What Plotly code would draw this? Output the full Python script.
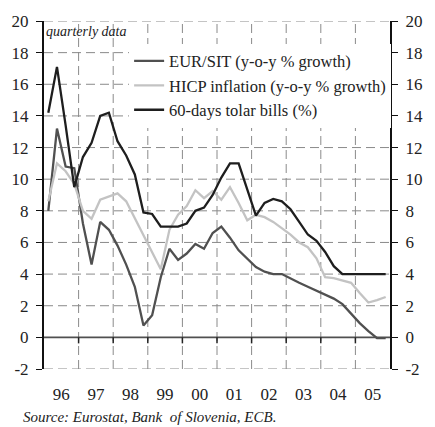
import plotly.graph_objects as go

years = list(range(1996, 2006))
year_labels = ["96", "97", "98", "99", "00", "01", "02", "03", "04", "05"]
quarters = [1, 2, 3, 4]
y_ticks = list(range(-2, 21, 2))
y_tick_labels = ["-2", "0", "2", "4", "6", "8", "10", "12", "14", "16", "18", "20"]

eur_sit = [8.0, 13.2, 10.8, 10.7,
           7.2, 4.6, 7.3, 6.8,
           5.8, 4.6, 3.2, 0.75,
           1.4, 3.8, 5.6, 4.9,
           5.3, 5.9, 5.6, 6.6,
           7.0, 6.3, 5.5, 5.0,
           4.45, 4.15, 4.0, 4.0,
           3.7, 3.45, 3.2, 2.95,
           2.7, 2.45, 2.1, 1.5,
           0.9, 0.4, -0.05, -0.05]

hicp = [8.6, 11.0, 10.5, 9.7,
        8.0, 7.5, 8.7, 8.9,
        9.1, 8.6, 7.5, 6.4,
        5.4, 4.3, 6.8, 7.75,
        8.3, 9.3, 8.8, 9.25,
        8.7, 9.5, 8.5, 7.4,
        7.75, 7.6, 7.3, 6.9,
        6.5, 6.0, 5.7, 5.0,
        3.8, 3.75, 3.6, 3.45,
        2.8, 2.2, 2.35, 2.55]

tolar_bills = [14.2, 17.1, 13.4, 9.5,
               11.4, 12.3, 14.0, 14.2,
               12.4, 11.5, 10.3, 7.9,
               7.8, 7.0, 7.0, 7.0,
               7.2, 8.0, 8.2, 9.0,
               10.1, 11.0, 11.0, 9.3,
               7.7, 8.5, 8.75, 8.6,
               8.1, 7.3, 6.5, 6.1,
               5.4, 4.5, 4.0, 4.0,
               4.0, 4.0, 4.0, 4.0]

# quarter positions on a numeric year axis (mid-quarter)
x_q = [y + (q - 0.5) / 4 for y in years for q in quarters]

FONT = "Liberation Serif, Times New Roman, serif"
GRID = "#8a8a8a"
NB = "\u00a0"
Y_MIN, Y_MAX = y_ticks[0], y_ticks[-1]
X_MIN, X_MAX = years[0], years[-1] + 1

fig = go.Figure()

# dashed grid drawn as background line traces (year boundaries and y ticks)
gx, gy = [], []
for yr in years[1:]:
    gx += [yr, yr, None]
    gy += [Y_MIN, Y_MAX, None]
for v in y_ticks:
    if v != 0:
        gx += [X_MIN, X_MAX, None]
        gy += [v, v, None]
fig.add_trace(go.Scatter(x=gx, y=gy, mode="lines", showlegend=False, hoverinfo="skip",
                         line=dict(color=GRID, width=1, dash="9px,5px"), cliponaxis=False))

# zero line and its small ticks at the year boundaries
fig.add_trace(go.Scatter(x=[X_MIN, X_MAX], y=[0, 0], mode="lines", showlegend=False,
                         hoverinfo="skip", line=dict(color="#505050", width=1.6)))
tx, ty = [], []
for yr in years[1:]:
    tx += [yr, yr, None]
    ty += [0, -0.38, None]
fig.add_trace(go.Scatter(x=tx, y=ty, mode="lines", showlegend=False, hoverinfo="skip",
                         line=dict(color="#222222", width=1.5)))

fig.add_trace(go.Scatter(x=x_q, y=eur_sit, mode="lines", name="EUR/SIT (y-o-y % growth)",
                         line=dict(color="#505050", width=2.3)))
fig.add_trace(go.Scatter(x=x_q, y=hicp, mode="lines", name="HICP inflation (y-o-y % growth)",
                         line=dict(color="#c3c3c3", width=2.3)))
fig.add_trace(go.Scatter(x=x_q, y=tolar_bills, mode="lines", name="60-days tolar bills (%)",
                         line=dict(color="#1e1e1e", width=2.3)))
# helper trace that carries the right-hand value axis
fig.add_trace(go.Scatter(x=x_q, y=tolar_bills, mode="lines", yaxis="y2",
                         showlegend=False, hoverinfo="skip", opacity=0,
                         line=dict(width=0)))

fig.update_layout(
    width=435, height=427,
    margin=dict(l=36, r=29, t=16, b=58),
    paper_bgcolor="white", plot_bgcolor="white",
    font=dict(family=FONT, size=17, color="#222222"),
    showlegend=True,
    legend=dict(x=0.246, y=0.935, xanchor="left", yanchor="top",
                bgcolor="white", borderwidth=0, itemwidth=30,
                font=dict(family=FONT, size=16.5, color="#222222"),
                tracegroupgap=0),
    xaxis=dict(range=[X_MIN, X_MAX], tickmode="array",
               tickvals=[y + 0.5 for y in years], ticktext=year_labels,
               showgrid=False, zeroline=False, showline=False,
               ticks="outside", ticklen=10, tickcolor="rgba(0,0,0,0)",
               fixedrange=True),
    yaxis=dict(range=[Y_MIN, Y_MAX], tickmode="array", tickvals=y_ticks,
               ticktext=[t + NB for t in y_tick_labels],
               showgrid=False, zeroline=False,
               showline=True, linecolor="#111111", linewidth=1.6,
               ticks="outside", ticklen=6, tickcolor="#111111", tickwidth=1.2),
    yaxis2=dict(range=[Y_MIN, Y_MAX], overlaying="y", side="right", anchor="x",
                tickmode="array", tickvals=y_ticks,
                ticktext=[NB + t for t in y_tick_labels],
                showgrid=False, zeroline=False,
                showline=True, linecolor="#111111", linewidth=1.6,
                ticks="outside", ticklen=6, tickcolor="#111111", tickwidth=1.2),
)

fig.add_annotation(text="<i>quarterly data</i>", xref="paper", yref="paper",
                   x=0.0, y=0.996, xanchor="left", yanchor="top", showarrow=False,
                   font=dict(family=FONT, size=14, color="#222222"))
fig.add_annotation(text="<i>Source: Eurostat, Bank  of Slovenia, ECB.</i>", xref="paper", yref="paper",
                   x=-0.067, y=-0.139, xanchor="left", yanchor="middle", showarrow=False,
                   font=dict(family=FONT, size=15, color="#222222"))

fig.write_html("out.html", config={"displayModeBar": False},
               post_script="document.body.style.margin='0px';")
